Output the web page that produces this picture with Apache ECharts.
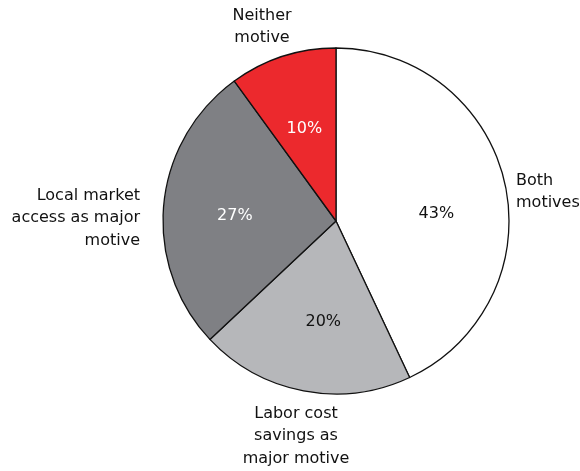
<!DOCTYPE html>
<html>
<head>
<meta charset="utf-8">
<script src="https://cdn.jsdelivr.net/npm/echarts@6/dist/echarts.min.js"></script>
<style>
  html, body { margin: 0; padding: 0; background: #ffffff; }
  #chart { width: 580px; height: 471px; }
</style>
</head>
<body>
<div id="chart"></div>
<script>
// Shares of firms by motive for investing abroad (percent)
const categories = ['Both\nmotives', 'Labor cost\nsavings as\nmajor motive', 'Local market\naccess as major\nmotive', 'Neither\nmotive'];
const shares = [43, 20, 27, 10];

const sliceColors = ['#ffffff', '#b6b7ba', '#7f8084', '#ec292d'];
const percentColors = ['#111111', '#111111', '#ffffff', '#ffffff'];
// nudges for the percentage labels inside each slice
const percentOffsets = [[13, 12], [4, 13], [-12, 3], [-4, -7]];
// placement of the category names around the pie
const nameAnchors = [
  { x: 516, y: 192, align: 'left' },
  { x: 296, y: 436, align: 'center' },
  { x: 140, y: 218, align: 'right' },
  { x: 262, y: 27, align: 'center' }
];

const FONT = '"DejaVu Sans", sans-serif';
const center = [336, 221];
const radius = 173;

const chart = echarts.init(document.getElementById('chart'), null, { renderer: 'canvas' });

chart.setOption({
  backgroundColor: '#ffffff',
  animation: false,
  series: [
    {
      type: 'pie',
      center: center,
      radius: radius,
      startAngle: 90,
      clockwise: true,
      silent: true,
      data: categories.map((name, i) => ({
        name: name,
        value: shares[i],
        itemStyle: { color: sliceColors[i], borderColor: '#111111', borderWidth: 1.3 },
        label: {
          show: true,
          position: 'inside',
          formatter: shares[i] + '%',
          color: percentColors[i],
          fontFamily: FONT,
          fontSize: 16,
          offset: percentOffsets[i]
        }
      })),
      labelLine: { show: false }
    },
    {
      type: 'pie',
      center: center,
      radius: radius,
      startAngle: 90,
      clockwise: true,
      silent: true,
      z: 1,
      itemStyle: { color: 'rgba(0,0,0,0)', borderWidth: 0 },
      data: categories.map((name, i) => ({ name: name, value: shares[i] })),
      label: {
        show: true,
        position: 'outside',
        alignTo: 'none',
        overflow: 'none',
        formatter: '{b}',
        color: '#111111',
        fontFamily: FONT,
        fontSize: 16,
        lineHeight: 22.5
      },
      labelLine: { show: false },
      labelLayout: function (params) {
        const a = nameAnchors[params.dataIndex];
        return { x: a.x, y: a.y, align: a.align, verticalAlign: 'middle' };
      }
    }
  ]
});
</script>
</body>
</html>
